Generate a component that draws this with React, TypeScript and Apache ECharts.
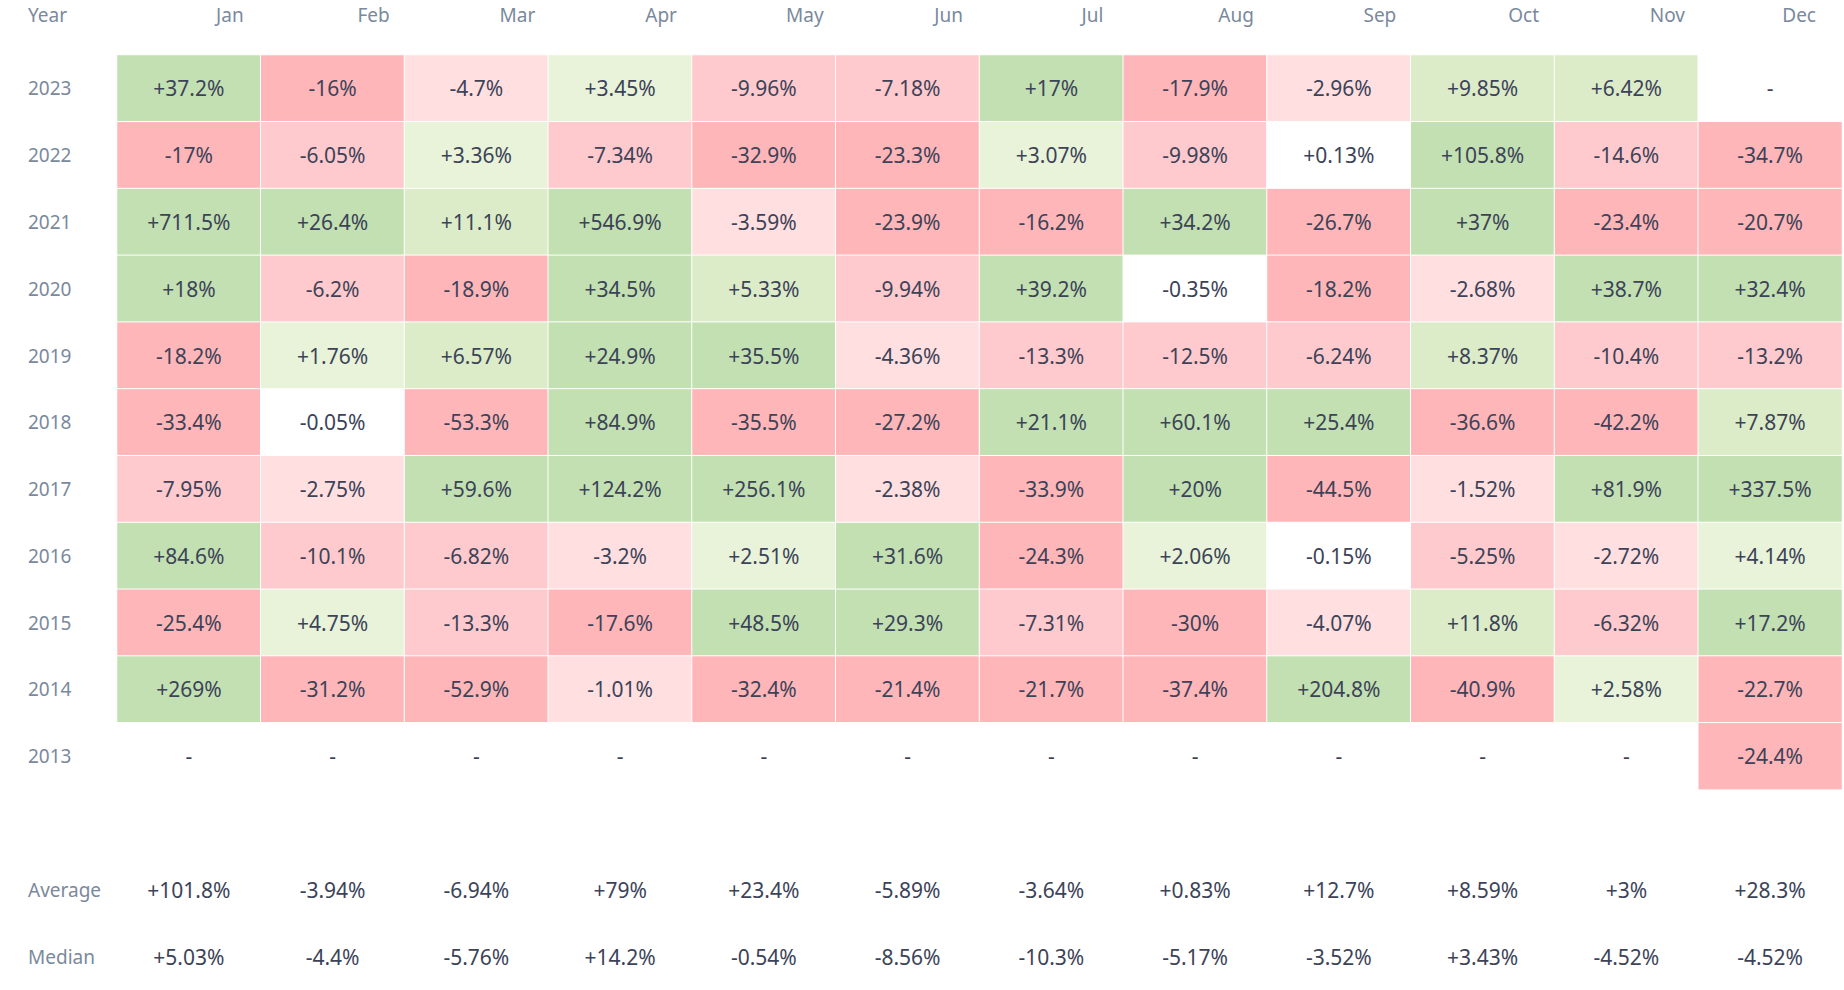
import React, { useEffect, useRef } from "react";
import * as echarts from "echarts";

const months = ["Jan", "Feb", "Mar", "Apr", "May", "Jun", "Jul", "Aug", "Sep", "Oct", "Nov", "Dec"];
const years = ["2023", "2022", "2021", "2020", "2019", "2018", "2017", "2016", "2015", "2014", "2013"];
const statLabels = ["Average", "Median"];

const r2023 = [37.2, -16, -4.7, 3.45, -9.96, -7.18, 17, -17.9, -2.96, 9.85, 6.42, null];
const r2022 = [-17, -6.05, 3.36, -7.34, -32.9, -23.3, 3.07, -9.98, 0.13, 105.8, -14.6, -34.7];
const r2021 = [711.5, 26.4, 11.1, 546.9, -3.59, -23.9, -16.2, 34.2, -26.7, 37, -23.4, -20.7];
const r2020 = [18, -6.2, -18.9, 34.5, 5.33, -9.94, 39.2, -0.35, -18.2, -2.68, 38.7, 32.4];
const r2019 = [-18.2, 1.76, 6.57, 24.9, 35.5, -4.36, -13.3, -12.5, -6.24, 8.37, -10.4, -13.2];
const r2018 = [-33.4, -0.05, -53.3, 84.9, -35.5, -27.2, 21.1, 60.1, 25.4, -36.6, -42.2, 7.87];
const r2017 = [-7.95, -2.75, 59.6, 124.2, 256.1, -2.38, -33.9, 20, -44.5, -1.52, 81.9, 337.5];
const r2016 = [84.6, -10.1, -6.82, -3.2, 2.51, 31.6, -24.3, 2.06, -0.15, -5.25, -2.72, 4.14];
const r2015 = [-25.4, 4.75, -13.3, -17.6, 48.5, 29.3, -7.31, -30, -4.07, 11.8, -6.32, 17.2];
const r2014 = [269, -31.2, -52.9, -1.01, -32.4, -21.4, -21.7, -37.4, 204.8, -40.9, 2.58, -22.7];
const r2013 = [null, null, null, null, null, null, null, null, null, null, null, -24.4];

const average = [101.8, -3.94, -6.94, 79, 23.4, -5.89, -3.64, 0.83, 12.7, 8.59, 3, 28.3];
const median = [5.03, -4.4, -5.76, 14.2, -0.54, -8.56, -10.3, -5.17, -3.52, 3.43, -4.52, -4.52];

const yearRows = [r2023, r2022, r2021, r2020, r2019, r2018, r2017, r2016, r2015, r2014, r2013];
const statRows = [average, median];

const FONT = "'Noto Sans', 'Open Sans', sans-serif";
const LABEL_COLOR = "#7a899c";
const VALUE_COLOR = "#3c4358";

const bucketColors = ["#c2e0b2", "#dcecc9", "#e8f3d9", "#ffffff", "#ffdfe0", "#ffcacd", "#ffb6b9", "rgba(255,255,255,0)"];

function fmt(v: number | null): string {
  if (v === null || v === undefined) return "-";
  const n = Math.abs(v) >= 100 ? Number(v.toFixed(1)) : Number(v.toPrecision(3));
  return (n > 0 ? "+" : "") + String(n) + "%";
}

function bucketOf(v: number | null): number {
  if (v === null || v === undefined) return 7;
  if (v >= 15) return 0;
  if (v >= 5) return 1;
  if (v >= 1) return 2;
  if (v > -1) return 3;
  if (v > -5) return 4;
  if (v > -15) return 5;
  return 6;
}

export default function App() {
  const ref = useRef<HTMLDivElement>(null);
  useEffect(() => {
    if (!ref.current) return;
    const chart = echarts.init(ref.current, undefined, { renderer: "svg" });

    const rowCats = [...years, "", ...statLabels];

    const cellData: any[] = [];
    yearRows.forEach((row, yi) => {
      row.forEach((v, xi) => {
        cellData.push({
          value: [xi, yi, v === null ? 0 : v, bucketOf(v)],
          label: { formatter: fmt(v) },
        });
      });
    });
    statRows.forEach((row, si) => {
      row.forEach((v, xi) => {
        cellData.push({
          value: [xi, years.length + 1 + si, v, 7],
          label: { formatter: fmt(v) },
        });
      });
    });

    const headStyle = { color: LABEL_COLOR, fontSize: 19, fontFamily: FONT };

    chart.setOption({
      animation: false,
      title: {
        text: "Year",
        left: 28,
        top: 5,
        padding: 0,
        textStyle: { color: LABEL_COLOR, fontSize: 19, fontWeight: "normal", fontFamily: FONT },
      },
      visualMap: {
        type: "piecewise",
        show: false,
        dimension: 3,
        seriesIndex: 0,
        pieces: bucketColors.map((c, i) => ({ value: i, color: c })),
      },
      grid: { left: 117, top: 55, width: 1725, height: 935 },
      xAxis: {
        type: "category",
        data: months,
        position: "top",
        axisLine: { show: false },
        axisTick: { show: false },
        splitLine: { show: false },
        axisLabel: {
          color: LABEL_COLOR,
          fontSize: 19,
          fontFamily: FONT,
          margin: 31,
          formatter: (v: string, i: number) => (i === months.length - 1 ? `{d|${v}}` : `{m|${v}}`),
          rich: {
            m: { ...headStyle, padding: [0, 0, 0, 82] },
            d: { ...headStyle, padding: [0, 0, 0, 58] },
          },
        },
      },
      yAxis: {
        type: "category",
        data: rowCats,
        inverse: true,
        axisLine: { show: false },
        axisTick: { show: false },
        splitLine: { show: false },
        axisLabel: { color: LABEL_COLOR, fontSize: 19, fontFamily: FONT, align: "left", margin: 89 },
      },
      series: [
        {
          type: "heatmap",
          data: cellData,
          itemStyle: { borderColor: "#ffffff", borderWidth: 1 },
          label: { show: true, color: VALUE_COLOR, fontSize: 21, fontFamily: FONT },
          emphasis: { disabled: true },
        },
      ],
    });
    return () => chart.dispose();
  }, []);
  return (
    <div
      ref={ref}
      style={{ position: "fixed", left: 0, top: 0, width: 1844, height: 990, background: "#ffffff" }}
    />
  );
}
